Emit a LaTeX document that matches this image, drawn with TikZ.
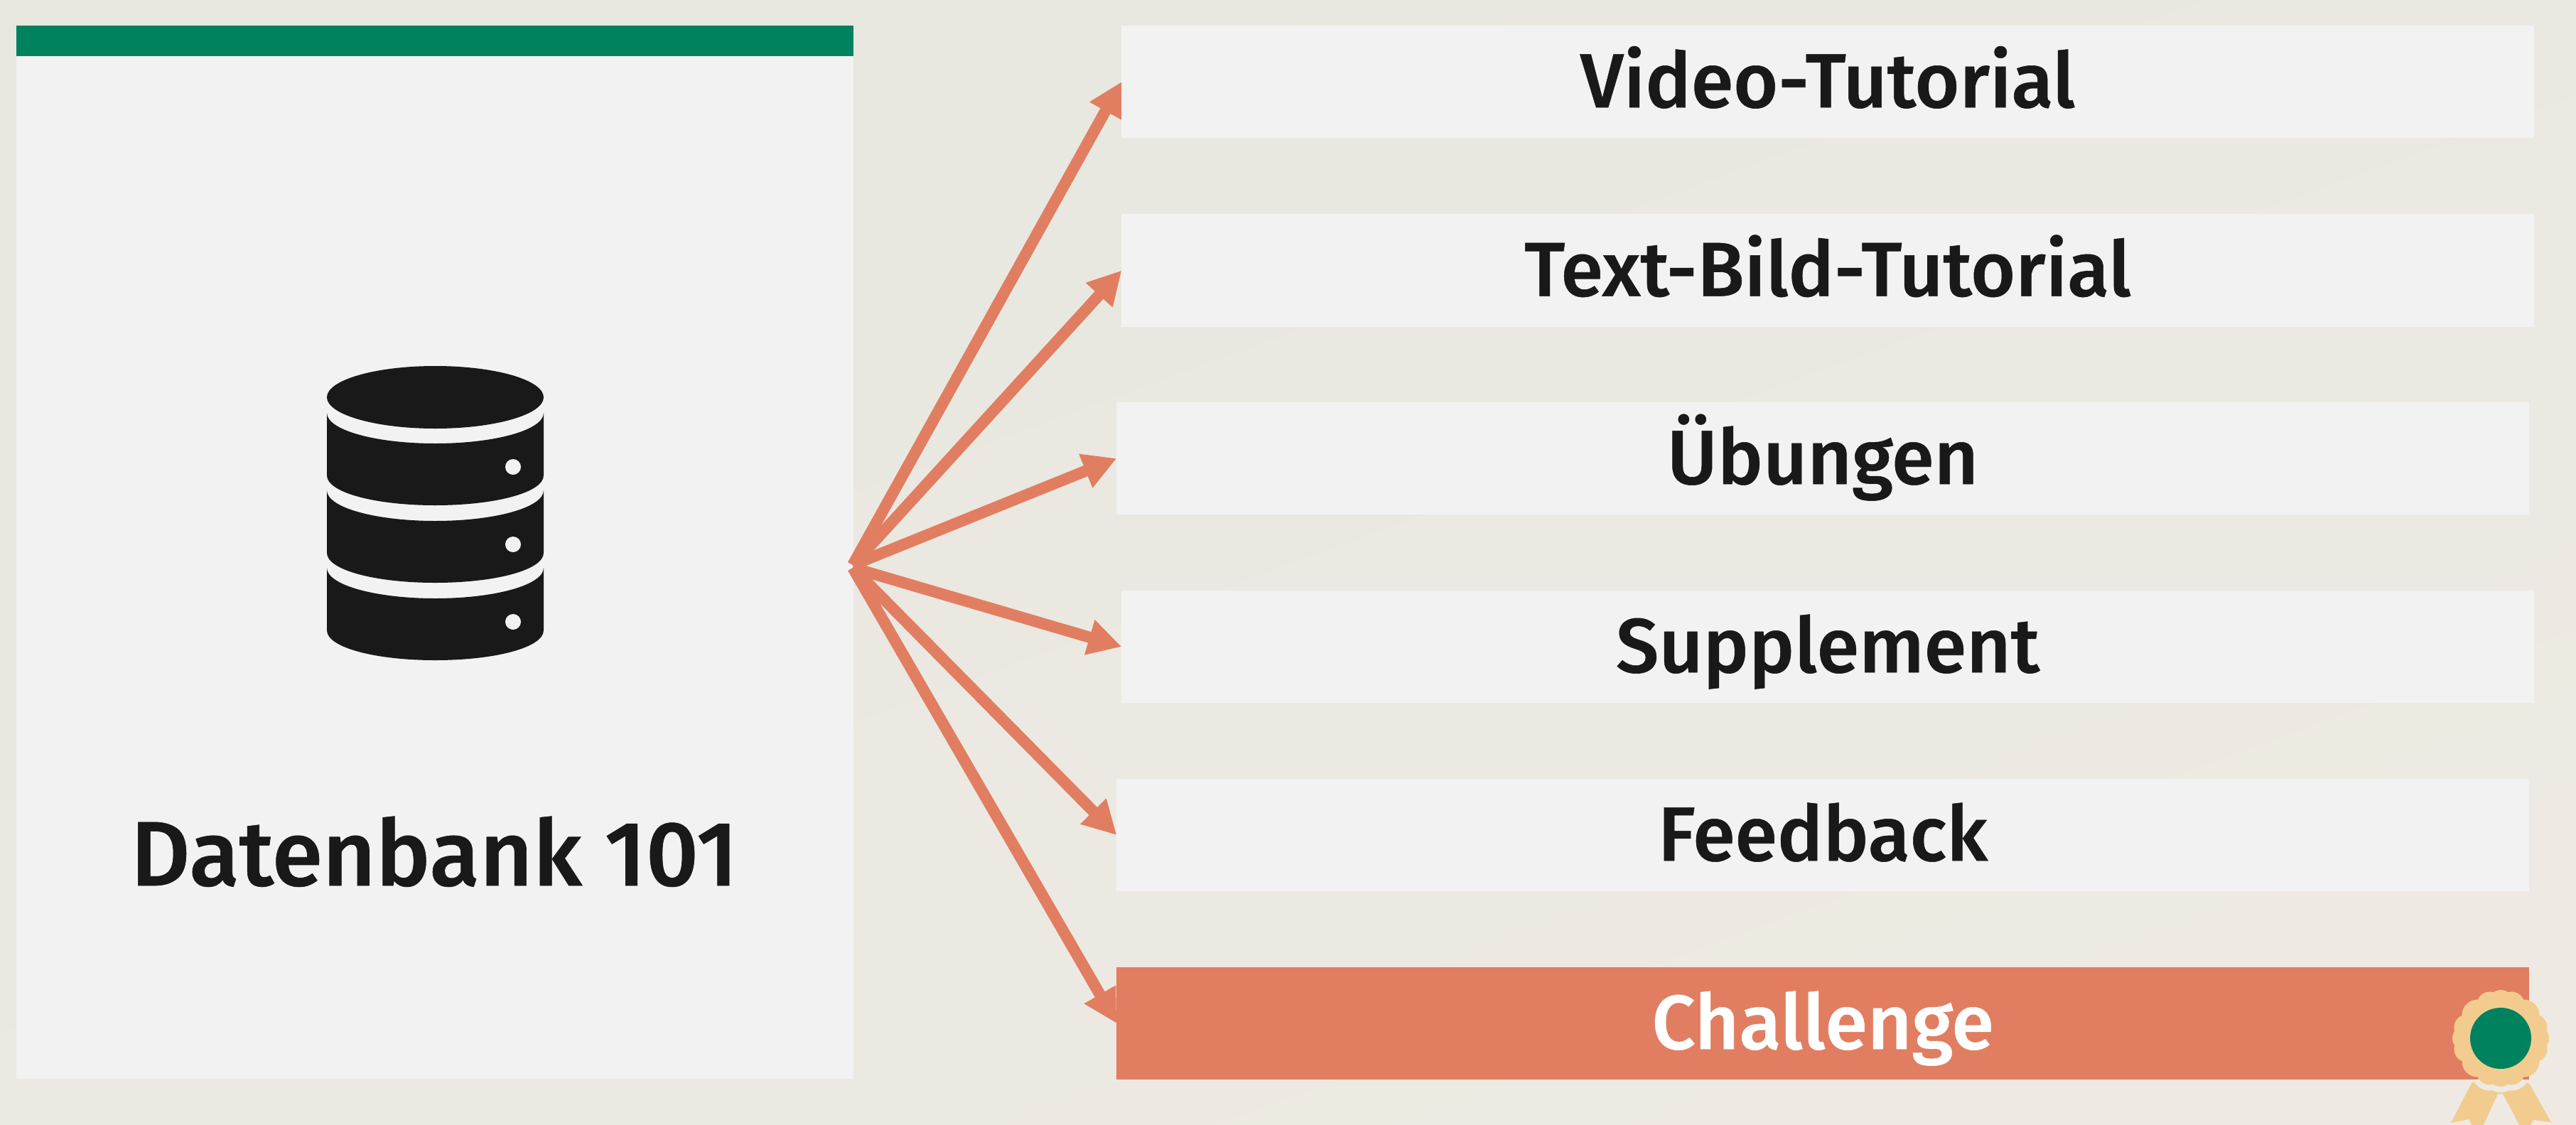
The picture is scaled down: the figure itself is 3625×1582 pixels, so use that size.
\documentclass[tikz,border=0pt]{standalone}
\usepackage{fontspec}
\setmainfont{Fira Sans Medium}[FakeBold=0.5]
\usetikzlibrary{arrows.meta}
\definecolor{bgA}{HTML}{E7E7DF}
\definecolor{bgB}{HTML}{EEEAE3}
\definecolor{panel}{HTML}{F2F2F2}
\definecolor{coral}{HTML}{E17E61}
\definecolor{forest}{HTML}{00825F}
\definecolor{gold}{HTML}{F2CC8F}
\definecolor{ink}{HTML}{191919}
\tikzset{
  x=0.01cm,y=-0.01cm,
  itembox/.style={fill=panel,text=ink,minimum width=19.86cm,minimum height=1.58cm,inner sep=0pt,outer sep=0pt,
    font=\fontsize{30.7pt}{32pt}\selectfont,text height=0.72cm,text depth=0pt},
  flow/.style={draw=coral,line width=0.16cm,-{Triangle[length=0.47cm,width=0.48cm]}},
}
\newcommand{\rosette}[2]{%
  \fill[#1] (3519,1461) circle[radius=53+#2];
  \foreach \a/\r/\c in {90/18/50,72/18/50,45/22/46,18/18/50,0/18/50,-18/18/50,-45/22/46,-72/18/50,-90/18/50,-108/18/50,-135/22/46,-162/18/50,180/18/50,162/18/50,135/22/46,108/18/50}{
    \fill[#1] ({3519+\c*cos(\a)},{1461-\c*sin(\a)}) circle[radius=\r+#2];
  }%
}
% one band of the database: lower half-ellipse on top (y=#1) and at the bottom (y=#2)
\newcommand{\dbband}[2]{%
  \fill[ink] (460,#1) .. controls (460,#1+24) and (528,#1+43) .. (612.5,#1+43)
    .. controls (697,#1+43) and (765,#1+24) .. (765,#1)
    -- (765,#2) .. controls (765,#2+24) and (697,#2+42) .. (612.5,#2+42)
    .. controls (528,#2+42) and (460,#2+24) .. (460,#2) -- cycle;
}
\begin{document}
\begin{tikzpicture}
\useasboundingbox (0,0) rectangle (3625,1582);
\shade[left color=bgA,right color=bgB,shading angle=20] (0,0) rectangle (3625,1582);
% left panel
\node[fill=panel,minimum width=11.78cm,minimum height=14.82cm,inner sep=0pt,outer sep=0pt] (panel) at (612,777) {};
\node[fill=forest,minimum width=11.78cm,minimum height=0.43cm,inner sep=0pt,outer sep=0pt] (bar) at (612,57.5) {};
% database icon
\fill[ink] (612.5,559) ellipse[x radius=152.5,y radius=44];
\dbband{581}{669}
\dbband{690}{778}
\dbband{799}{887}
\foreach \y in {657,766,875}{\fill[panel] (722,\y) circle[radius=11];}
\node[text=ink,inner sep=0pt,font=\fontsize{36.7pt}{38pt}\selectfont,anchor=base] (title) at (611,1246) {Datenbank 101};
% items
\node[itembox] (b1) at (2572,115) {Video-Tutorial};
\node[itembox] (b2) at (2572,380.5) {Text-Bild-Tutorial};
\node[itembox] (b3) at (2565,645) {Übungen};
\node[itembox] (b4) at (2572,910) {Supplement};
\node[itembox] (b5) at (2565,1175) {Feedback};
\node[itembox,fill=coral,text=white] (b6) at (2565,1440) {Challenge};
% arrows
\coordinate (hubA) at (1200,795);
\coordinate (hubB) at (1200,799);
\draw[flow] (hubA) -- (b1.west);
\draw[flow] (hubA) -- (b2.west);
\draw[flow] (hubA) -- (b3.west);
\draw[flow] (hubB) -- (b4.west);
\draw[flow] (hubB) -- (b5.west);
\draw[flow] (hubB) -- (b6.west);
% rosette
\begin{scope}
\clip (0,0) rectangle (3625,1582);
\begin{scope}
\clip (3478,1524) -- (3449,1580) -- (3474,1575) -- (3487,1600) -- (3515,1539) -- (3522,1539) -- (3554,1600) -- (3552,1600) -- (3565,1576) -- (3590,1579) -- (3560,1526) -- (3519,1500) -- cycle;
\fill[gold] (3440,1500) rectangle (3600,1600);
\rosette{bgB}{8}
\end{scope}
\end{scope}
\rosette{gold}{0}
\fill[forest] (3519,1461) circle[radius=43];
\end{tikzpicture}
\end{document}
